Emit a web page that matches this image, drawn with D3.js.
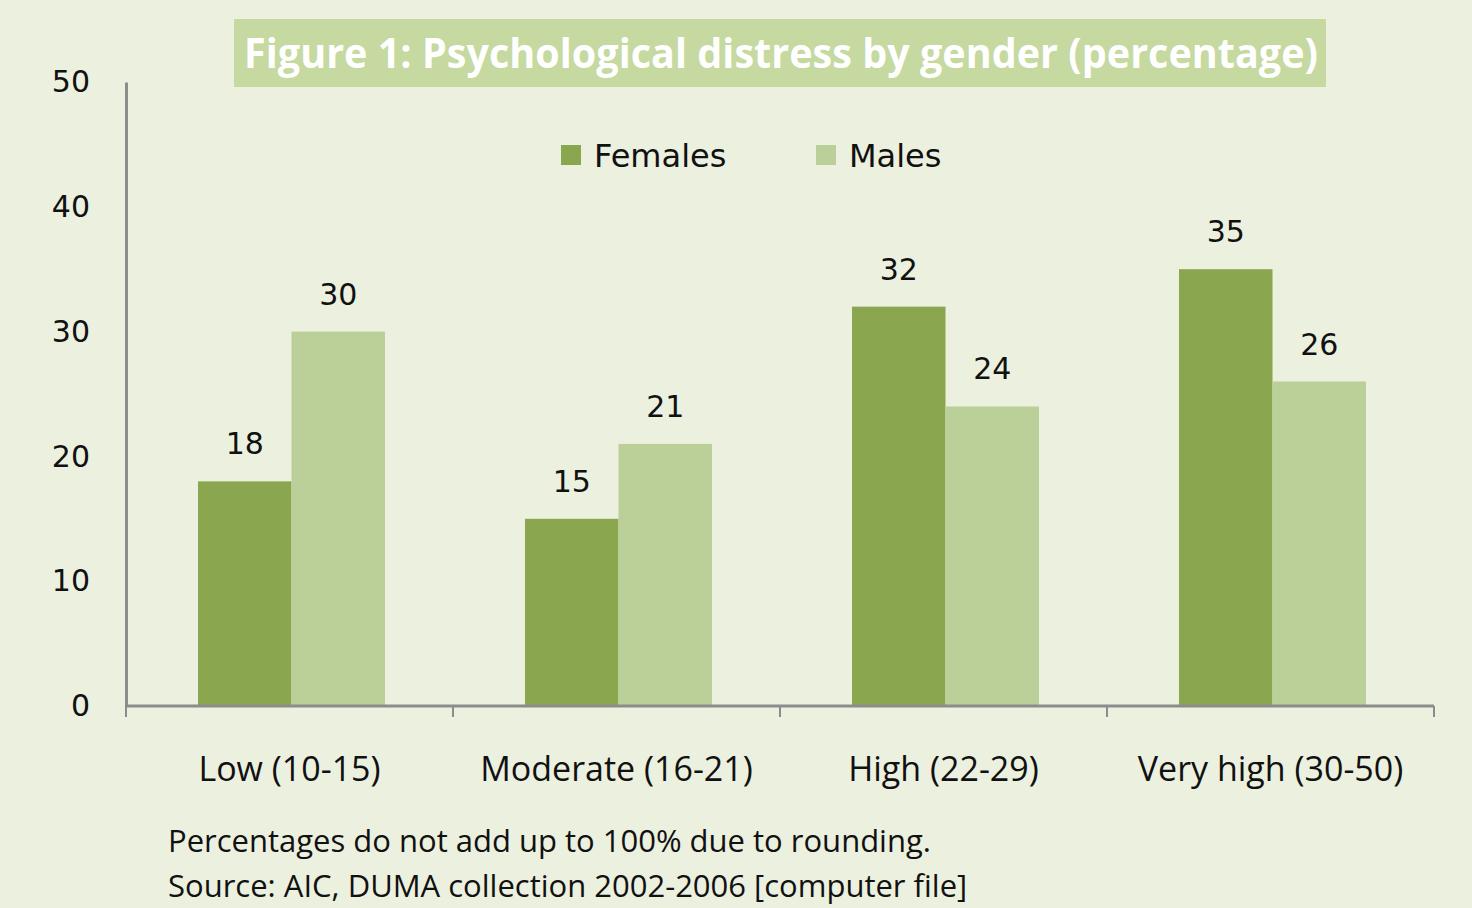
<!DOCTYPE html>
<html>
<head>
<meta charset="utf-8">
<script src="https://cdn.jsdelivr.net/npm/d3@7"></script>
<style>
  body { margin: 0; background: #ECF0DF; }
  svg { display: block; }
</style>
</head>
<body>
<svg class="chart" width="1472" height="908"></svg>
<script>
var categories = ["Low (10-15)", "Moderate (16-21)", "High (22-29)", "Very high (30-50)"];
var seriesNames = ["Females", "Males"];
var females = [18, 15, 32, 35];
var males = [30, 21, 24, 26];
var yTicks = [0, 10, 20, 30, 40, 50];
var notes = ["Percentages do not add up to 100% due to rounding.",
             "Source: AIC, DUMA collection 2002-2006 [computer file]"];

var colors = ["#8AA64E", "#BBD098"];
var narrow = "'Liberation Sans Narrow', 'Open Sans', sans-serif";
var wide = "'DejaVu Sans', Verdana, sans-serif";

var margin = {top: 82, left: 126, right: 38, bottom: 202};
var W = 1472, H = 908;
var width = W - margin.left - margin.right,
    height = H - margin.top - margin.bottom;

var chart = d3.select('.chart');
chart.append('rect').attr('width', W).attr('height', H).attr('fill', '#ECF0DF');

var g = chart.append('g')
  .attr('transform', 'translate(' + margin.left + ',' + margin.top + ')');

var x0 = d3.scaleBand().domain(categories).range([0, width]).paddingInner(0).paddingOuter(0);
var x1 = d3.scaleBand().domain(seriesNames).range([72, x0.bandwidth() - 68]);
var y = d3.scaleLinear().domain([0, 50]).range([height, 0]);

var data = categories.map(function(c, i) {
  return {cat: c, vals: [{s: "Females", v: females[i]}, {s: "Males", v: males[i]}]};
});

// bars
var groups = g.selectAll('.grp').data(data).enter().append('g')
  .attr('transform', function(d) { return 'translate(' + x0(d.cat) + ',0)'; });

groups.selectAll('rect').data(function(d) { return d.vals; }).enter().append('rect')
  .attr('x', function(d) { return x1(d.s); })
  .attr('width', x1.bandwidth())
  .attr('y', function(d) { return y(d.v); })
  .attr('height', function(d) { return height - y(d.v); })
  .attr('fill', function(d, i) { return colors[i]; });

groups.selectAll('text').data(function(d) { return d.vals; }).enter().append('text')
  .attr('x', function(d) { return x1(d.s) + x1.bandwidth() / 2; })
  .attr('y', function(d) { return y(d.v) - 27; })
  .attr('text-anchor', 'middle')
  .style('font-family', wide)
  .style('font-size', '30px')
  .attr('fill', '#111')
  .text(function(d) { return d.v; });

// y axis
var yAxis = d3.axisLeft(y).tickValues(yTicks).tickSize(0).tickPadding(36);
var ya = g.append('g').attr('class', 'y axis').call(yAxis);
ya.select('.domain').attr('stroke', '#8C8C8C').attr('stroke-width', 3);
ya.selectAll('text').style('font-family', wide).style('font-size', '30px').attr('fill', '#111');

// x axis
var xAxisLine = g.append('g').attr('class', 'x axis').attr('transform', 'translate(0,' + height + ')');
xAxisLine.append('line').attr('x1', 0).attr('x2', width)
  .attr('stroke', '#8C8C8C').attr('stroke-width', 3);
var bounds = categories.map(function(c) { return x0(c); }).concat([width]);
xAxisLine.selectAll('.tk').data(bounds).enter().append('line')
  .attr('x1', function(d) { return d; }).attr('x2', function(d) { return d; })
  .attr('y1', 0).attr('y2', 11)
  .attr('stroke', '#8C8C8C').attr('stroke-width', 2);
xAxisLine.selectAll('.lbl').data(categories).enter().append('text')
  .attr('x', function(d) { return x0(d) + x0.bandwidth() / 2; })
  .attr('y', 75)
  .attr('text-anchor', 'middle')
  .style('font-family', narrow)
  .style('font-size', '34px')
  .attr('fill', '#111')
  .text(function(d) { return d; });

// title
chart.append('rect').attr('x', 234).attr('y', 19).attr('width', 1092).attr('height', 68).attr('fill', '#C5D9A0');
chart.append('text').attr('x', 244).attr('y', 68)
  .attr('textLength', 1074).attr('lengthAdjust', 'spacingAndGlyphs')
  .style('font-family', narrow).style('font-weight', 'bold').style('font-size', '42px')
  .attr('fill', '#fff')
  .text('Figure 1: Psychological distress by gender (percentage)');

// legend
var legendX = [561, 816];
var lg = chart.selectAll('.leg').data(seriesNames).enter().append('g')
  .attr('transform', function(d, i) { return 'translate(' + legendX[i] + ',145)'; });
lg.append('rect').attr('width', 20).attr('height', 20).attr('fill', function(d, i) { return colors[i]; });
lg.append('text').attr('x', 33).attr('y', 22)
  .style('font-family', wide).style('font-size', '32px').attr('fill', '#111')
  .text(function(d) { return d; });

// notes
chart.selectAll('.note').data(notes).enter().append('text')
  .attr('x', 168).attr('y', function(d, i) { return 852 + i * 45; })
  .style('font-family', narrow).style('font-size', '31px').attr('fill', '#111')
  .text(function(d) { return d; });
</script>
</body>
</html>
